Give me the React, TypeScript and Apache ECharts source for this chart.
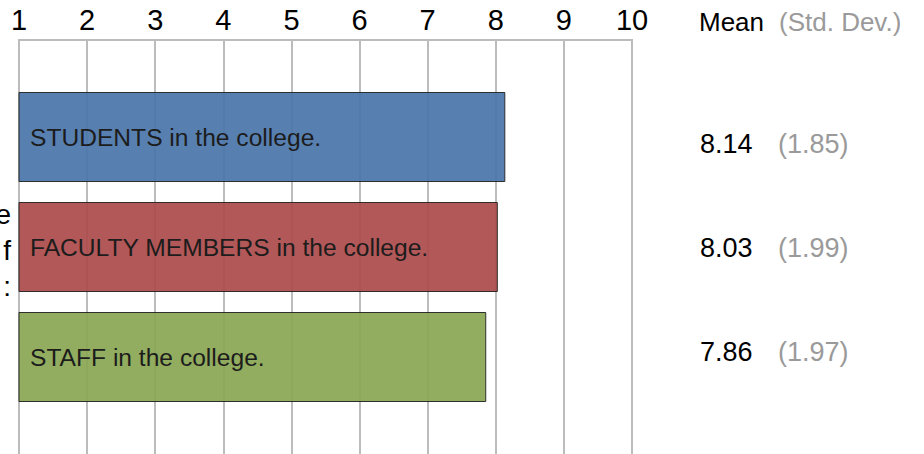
import React, { useEffect, useRef } from "react";
import * as echarts from "echarts";

const categories = [
  "STUDENTS in the college.",
  "FACULTY MEMBERS in the college.",
  "STAFF in the college.",
];
const means = [8.14, 8.03, 7.86];
const stdDevs = [1.85, 1.99, 1.97];
const barColors = ["#4a76ab", "#ad4b4b", "#8aa753"];
const axisMin = 1;
const axisMax = 10;
const meanHeader = "Mean";
const sdHeader = "(Std. Dev.)";
const leftTitleTail = ["e", "f", ":"];

const FONT = "'Liberation Sans', Arial, Helvetica, sans-serif";

export default function App() {
  const ref = useRef<HTMLDivElement>(null);

  useEffect(() => {
    if (!ref.current) return;
    const chart = echarts.init(ref.current, undefined, { renderer: "svg" });

    const rowY = [144, 248, 352];
    const graphics: any[] = [
      {
        type: "text",
        x: 699,
        y: 22,
        style: {
          text: meanHeader,
          fontSize: 26,
          fill: "#000",
          fontFamily: FONT,
          verticalAlign: "middle",
        },
      },
      {
        type: "text",
        x: 779,
        y: 22,
        style: {
          text: sdHeader,
          fontSize: 26,
          fill: "#9a9a9a",
          fontFamily: FONT,
          verticalAlign: "middle",
        },
      },
    ];
    means.forEach((m, i) => {
      graphics.push({
        type: "text",
        x: 700,
        y: rowY[i],
        style: {
          text: m.toFixed(2),
          fontSize: 27,
          fill: "#000",
          fontFamily: FONT,
          verticalAlign: "middle",
          align: "left",
        },
      });
      graphics.push({
        type: "text",
        x: 778,
        y: rowY[i],
        style: {
          text: "(" + stdDevs[i].toFixed(2) + ")",
          fontSize: 27,
          fill: "#9a9a9a",
          fontFamily: FONT,
          verticalAlign: "middle",
          align: "left",
        },
      });
    });
    leftTitleTail.forEach((t, i) => {
      graphics.push({
        type: "text",
        x: 11,
        y: 214 + i * 36,
        style: {
          text: t,
          fontSize: 28,
          fill: "#000",
          fontFamily: FONT,
          verticalAlign: "middle",
          align: "right",
        },
      });
    });

    chart.setOption({
      animation: false,
      backgroundColor: "#fff",
      grid: [
        {
          left: 19,
          right: 292,
          top: 40,
          height: 440,
          outerBoundsMode: "none",
          containLabel: false,
          show: true,
          borderColor: "#bcbcbc",
          borderWidth: 2,
          backgroundColor: "transparent",
        },
        {
          left: 19,
          right: 292,
          top: 82,
          height: 330,
          outerBoundsMode: "none",
          containLabel: false,
        },
      ],
      xAxis: [
        {
          gridIndex: 0,
          type: "value",
          position: "top",
          min: axisMin,
          max: axisMax,
          interval: 1,
          axisLine: { show: false },
          axisTick: { show: false },
          axisLabel: {
            fontSize: 29,
            color: "#000",
            fontFamily: FONT,
            margin: 6,
          },
          splitLine: { show: true, lineStyle: { color: "#bcbcbc", width: 2 } },
        },
        {
          gridIndex: 1,
          type: "value",
          min: axisMin,
          max: axisMax,
          show: false,
        },
      ],
      yAxis: [
        { gridIndex: 0, type: "value", show: false },
        {
          gridIndex: 1,
          type: "category",
          inverse: true,
          data: categories,
          z: 10,
          axisLine: { show: false },
          axisTick: { show: false },
          splitLine: { show: false },
          axisLabel: {
            inside: true,
            margin: 11,
            fontSize: 24.6,
            color: "#1c1c1c",
            fontFamily: FONT,
          },
        },
      ],
      series: [
        {
          type: "bar",
          xAxisIndex: 1,
          yAxisIndex: 1,
          barWidth: 90,
          clip: true,
          data: means.map((v, i) => ({
            value: v,
            itemStyle: {
              color: barColors[i],
              borderColor: "#222",
              borderWidth: 1,
              opacity: 0.93,
            },
          })),
        },
      ],
      graphic: graphics,
    });

    return () => chart.dispose();
  }, []);

  return (
    <div
      ref={ref}
      style={{ position: "absolute", left: 0, top: 0, width: 924, height: 454 }}
    />
  );
}
